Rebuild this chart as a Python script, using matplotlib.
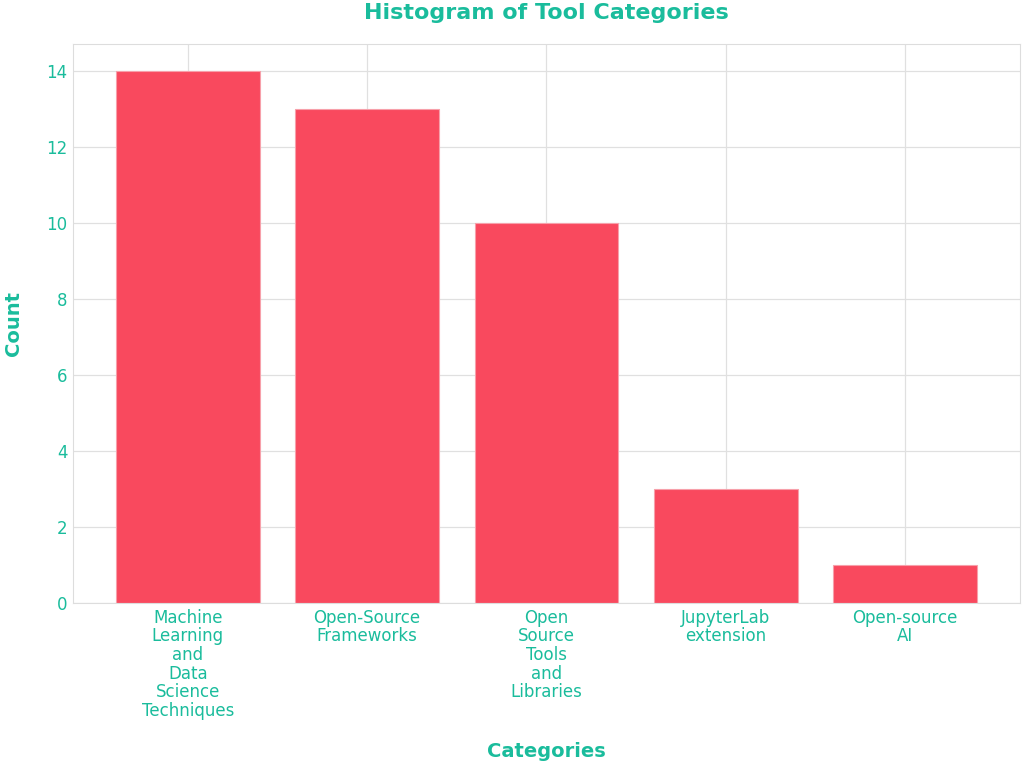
import matplotlib.pyplot as plt

plt.rcParams['font.family'] = ['DejaVu Sans']

categories = ["Machine\nLearning\nand\nData\nScience\nTechniques",
              "Open-Source\nFrameworks",
              "Open\nSource\nTools\nand\nLibraries",
              "JupyterLab\nextension",
              "Open-source\nAI"]
counts = [14, 13, 10, 3, 1]

teal = "#1ABC9C"
bar_color = "#F9495E"

fig, ax = plt.subplots(figsize=(10.24, 7.67), dpi=100)
fig.subplots_adjust(left=0.0713, right=0.996, top=0.9426, bottom=0.2138)

ax.bar(range(len(categories)), counts, width=0.8, color=bar_color,
       edgecolor="#F7A0AA", linewidth=0.8, zorder=2)
ax.set_xticks(range(len(categories)))
ax.set_xticklabels(categories, linespacing=1.05)

ax.grid(True, color="#E0E0E0", linewidth=0.9, zorder=0)
ax.set_axisbelow(True)
for s in ax.spines.values():
    s.set_color("#DDDDDD")
ax.tick_params(colors=teal, labelsize=12, length=0, pad=4)

ax.set_title("Histogram of Tool Categories", color=teal, fontsize=16,
             fontweight="bold", pad=18)
ax.set_xlabel("Categories", color=teal, fontsize=14, fontweight="bold", labelpad=16)
ax.set_ylabel("Count", color=teal, fontsize=14, fontweight="bold", labelpad=17)

fig.savefig("out.png", dpi=100)
